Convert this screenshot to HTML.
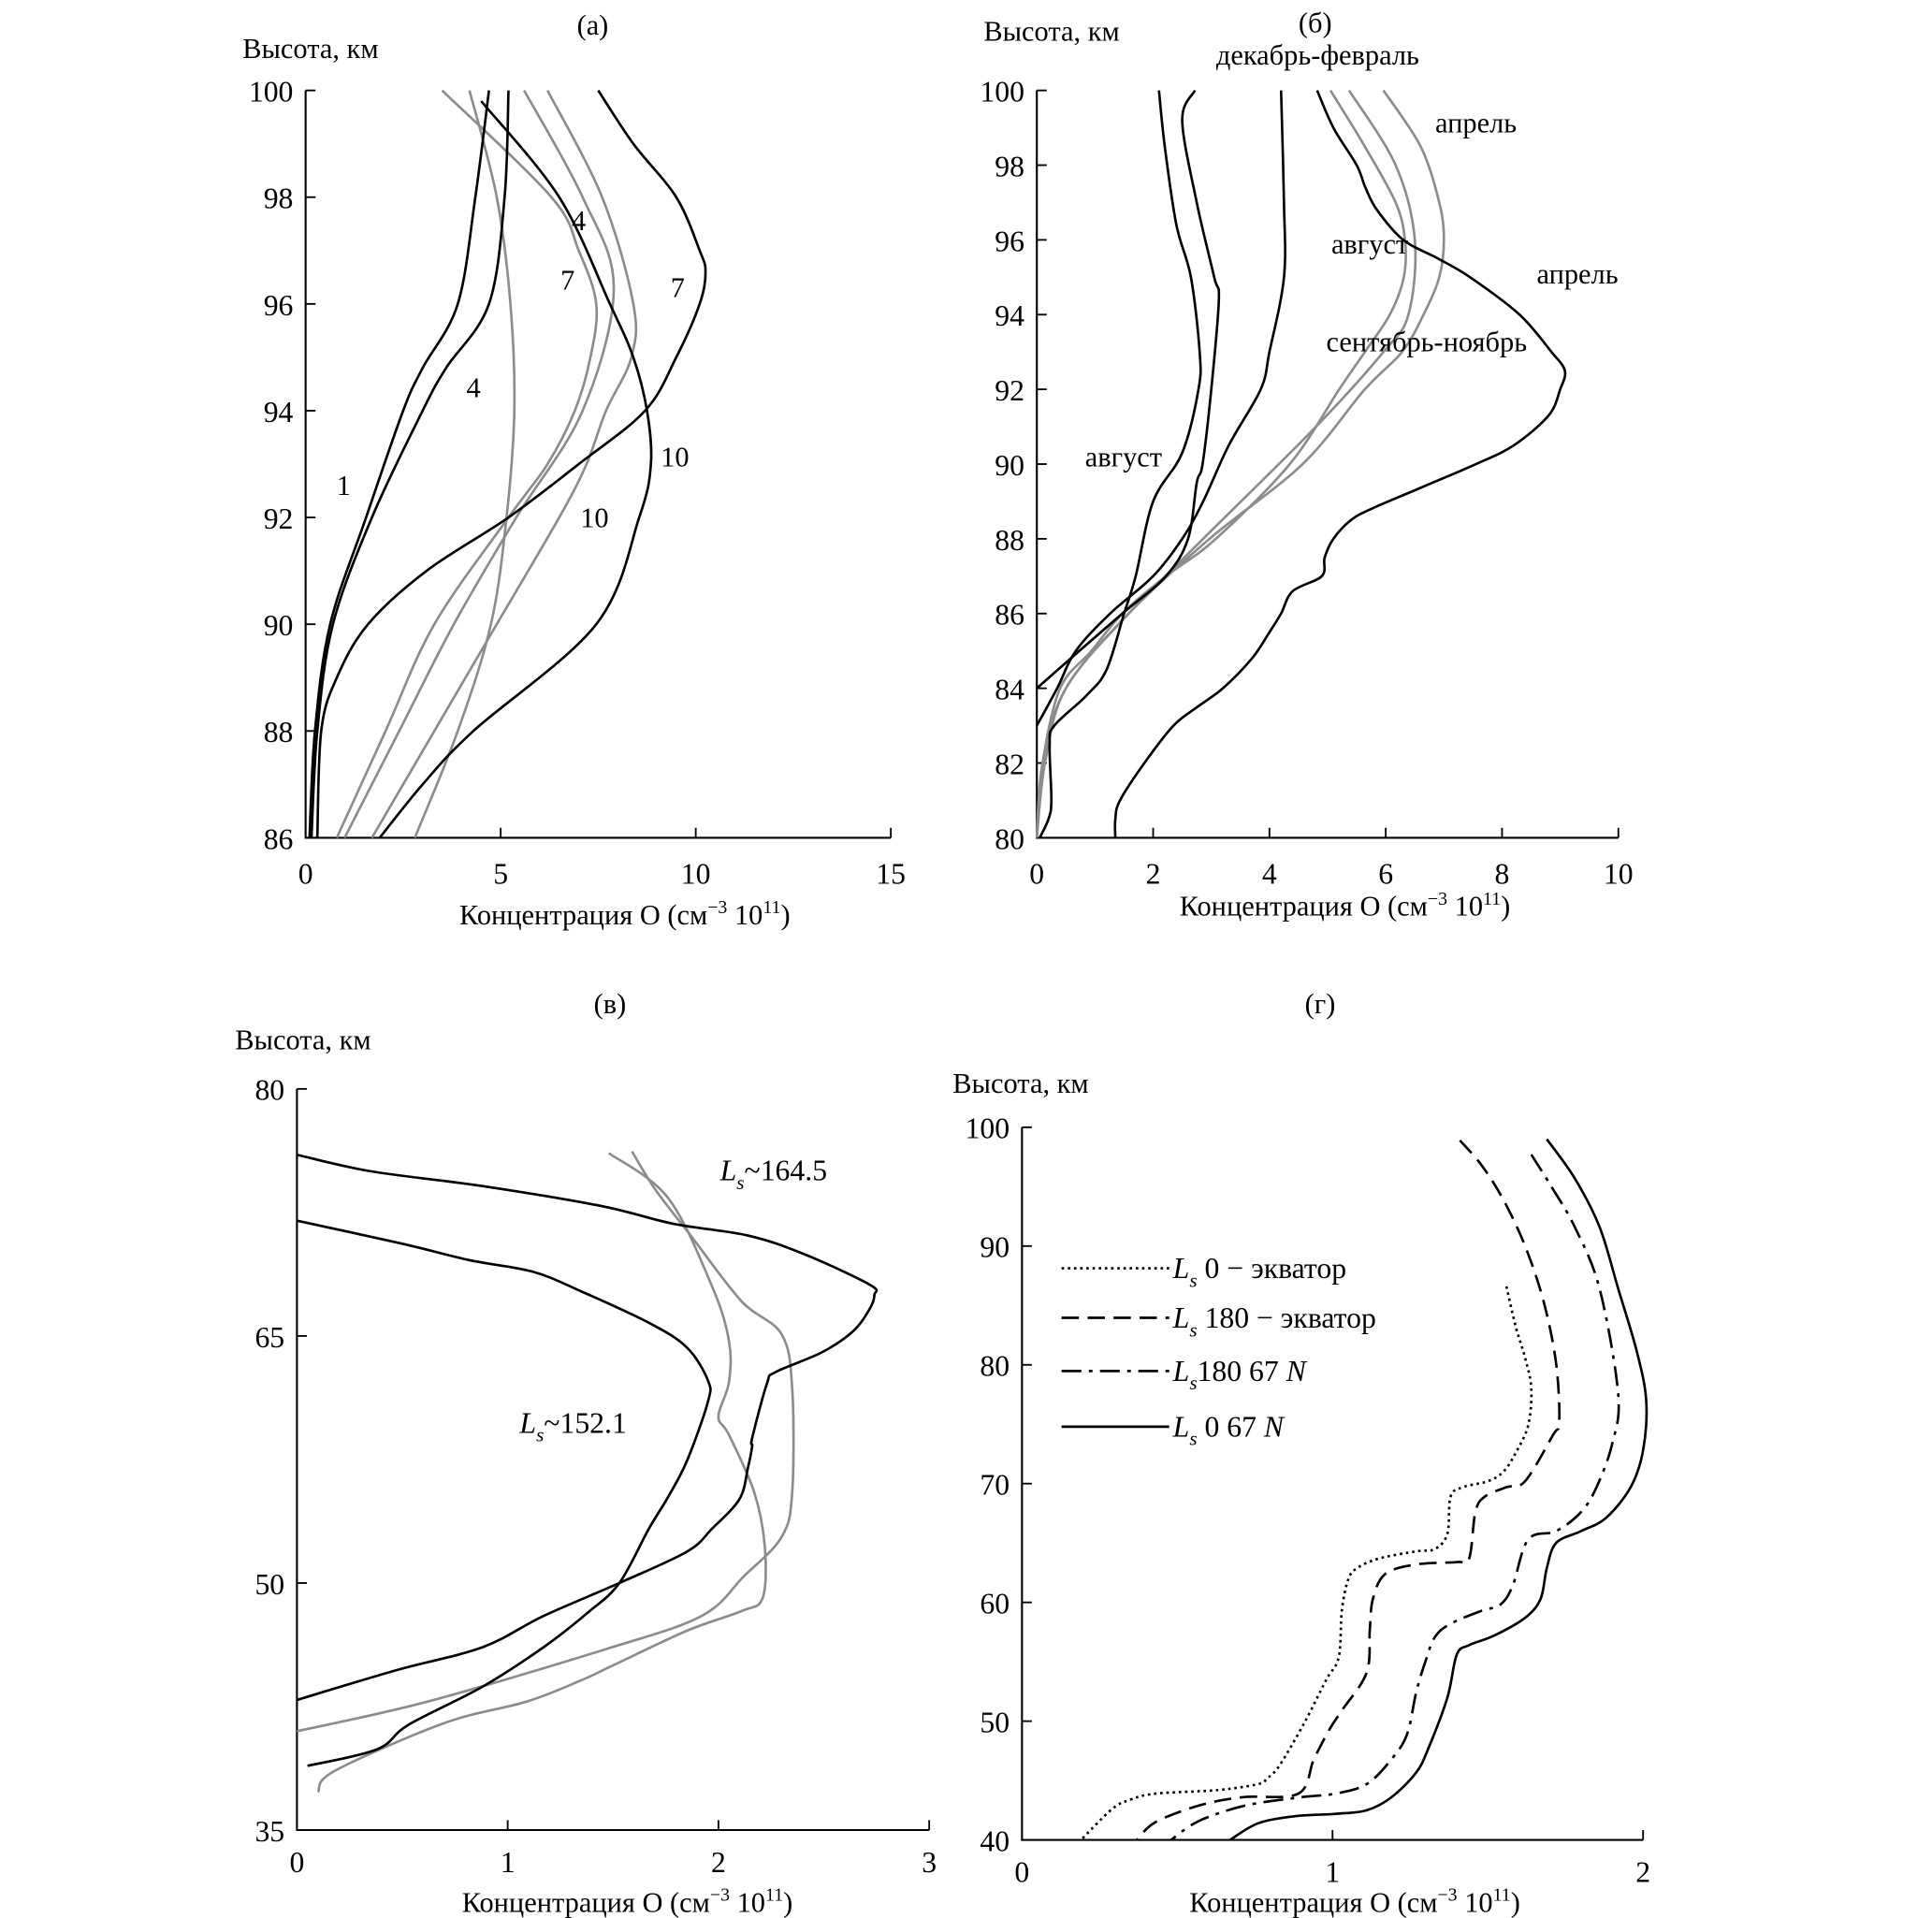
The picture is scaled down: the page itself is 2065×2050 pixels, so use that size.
<!DOCTYPE html>
<html><head><meta charset="utf-8"><style>
html,body{margin:0;padding:0;background:#fff}
svg{display:block}
text{font-family:"Liberation Serif",serif;fill:#000}
</style></head><body>
<svg id="fig" xmlns="http://www.w3.org/2000/svg" width="2065" height="2050" viewBox="0 0 1561.5 1550" font-family="Liberation Serif, serif">
<g id="gA"></g>
<g id="gB"></g>
<g id="gC"></g>
<g id="gD"></g>
</svg>
<script>
// ---------- Panel (a) data ----------
const aXTicks = [0, 5, 10, 15];
const aYTicks = [86, 88, 90, 92, 94, 96, 98, 100];
const aAlt1 = [100, 98, 96, 94.8, 94, 92, 90, 88, 86];
const aVal1 = [4.7, 4.35, 3.9, 3.0, 2.5, 1.55, 0.63, 0.24, 0.1];
const aAlt4 = [100, 98, 96, 94.8, 94, 92, 90, 88, 86];
const aVal4 = [5.2, 5.1, 4.7, 3.6, 3.0, 1.7, 0.7, 0.3, 0.15];
const aAlt7 = [100, 99, 98, 97, 96.6, 96, 95, 94, 93, 92, 91, 90, 89, 88, 86];
const aVal7 = [7.5, 8.4, 9.5, 10.1, 10.25, 10.1, 9.5, 8.7, 7.0, 5.2, 3.1, 1.6, 0.8, 0.4, 0.3];
const aAlt10 = [99.8, 98, 96, 95, 94, 93, 92, 90, 88, 87, 86];
const aVal10 = [4.5, 6.5, 7.8, 8.4, 8.75, 8.85, 8.55, 7.45, 4.3, 3.0, 1.9];
const aAltG4 = [100, 98, 97, 96, 95, 94, 93, 92, 90, 88, 86];
const aValG4 = [3.5, 6.3, 7.0, 7.45, 7.3, 6.9, 6.2, 5.2, 3.3, 2.05, 0.8];
const aAltG7 = [100, 98, 96.3, 94, 92, 90, 88, 86];
const aValG7 = [5.6, 7.1, 7.9, 7.1, 5.4, 3.8, 2.4, 1.0];
const aAltG1 = [100, 98, 96, 94, 92, 90, 88, 86];
const aValG1 = [4.2, 4.9, 5.25, 5.35, 5.15, 4.75, 3.9, 2.8];
const aAltG10 = [100, 98, 96, 95, 94, 93, 92, 90, 88, 86];
const aValG10 = [6.2, 7.6, 8.4, 8.35, 7.7, 7.2, 6.5, 4.9, 3.3, 1.7];

// ---------- Panel (b) data ----------
const bXTicks = [0, 2, 4, 6, 8, 10];
const bYTicks = [80, 82, 84, 86, 88, 90, 92, 94, 96, 98, 100];
const bAltAug = [100, 98.5, 96.4, 95, 93, 92, 90.3, 89, 87, 86, 84.5, 83.8, 83, 82.5, 81, 80.5, 80];
const bValAug = [2.1, 2.2, 2.4, 2.65, 2.8, 2.78, 2.5, 2.0, 1.7, 1.5, 1.2, 0.85, 0.3, 0.22, 0.25, 0.2, 0.05];
const bAltDec = [100, 99.2, 97, 95, 94.4, 92, 90, 89.5, 88, 87, 86, 85, 84];
const bValDec = [2.72, 2.5, 2.75, 3.05, 3.13, 3.0, 2.85, 2.75, 2.6, 2.22, 1.47, 0.73, 0];
const bAltSep = [100, 97, 95, 93, 92, 90.5, 89, 88, 87, 86, 85, 84, 83];
const bValSep = [4.2, 4.25, 4.25, 4.0, 3.85, 3.3, 2.86, 2.5, 2.0, 1.26, 0.67, 0.35, 0];
const bAltApr = [100, 99, 98, 97.4, 96.8, 96, 95.5, 95, 94, 93, 92.5, 92, 91.3, 90.5, 90, 89.3, 88.8, 88.5, 88, 87.5, 87, 86.6, 86, 85.5, 84.8, 84, 83.5, 83, 82, 81, 80.5, 80];
const bValApr = [4.82, 5.1, 5.5, 5.65, 5.85, 6.3, 6.9, 7.45, 8.3, 8.85, 9.08, 9.0, 8.8, 8.2, 7.55, 6.5, 5.75, 5.4, 5.1, 4.95, 4.9, 4.4, 4.2, 4.0, 3.7, 3.2, 2.76, 2.35, 1.85, 1.43, 1.35, 1.35];
const bAltG1 = [100, 98.5, 97, 96, 95, 94, 93, 92, 90, 88, 87, 86, 85, 84, 82, 80];
const bValG1 = [5.05, 5.64, 6.17, 6.33, 6.31, 6.07, 5.64, 5.2, 4.35, 3.08, 2.22, 1.47, 0.94, 0.4, 0.1, 0];
const bAltG2 = [100, 98, 96, 94, 93, 91, 88, 86, 84, 82, 80];
const bValG2 = [5.37, 6.17, 6.5, 6.39, 5.96, 4.8, 2.86, 1.58, 0.5, 0.14, 0];
const bAltG3 = [100, 98.5, 97, 96, 95, 94, 93, 92, 90, 88, 86, 84, 82, 80];
const bValG3 = [5.96, 6.6, 6.92, 7.0, 6.92, 6.65, 6.28, 5.64, 4.57, 2.97, 1.58, 0.5, 0.1, 0];

// ---------- Panel (c) data ----------
const cXTicks = [0, 1, 2, 3];
const cYTicks = [35, 50, 65, 80];
const cAltOuter = [76.0, 75.0, 74.1, 72.9, 71.8, 71.1, 69.95, 68.1, 67.5, 66.7, 65.3, 64.0, 62.8, 62.1, 58.8, 58.3, 57.0, 55.1, 53.3, 51.9, 50.0, 48.0, 46.1, 44.7, 42.9];
const cValOuter = [0, 0.35, 0.88, 1.44, 1.79, 2.14, 2.41, 2.72, 2.74, 2.72, 2.64, 2.49, 2.27, 2.23, 2.16, 2.16, 2.14, 2.1, 1.97, 1.85, 1.53, 1.17, 0.88, 0.47, 0];
const cAltInner = [72.0, 70.6, 69.6, 68.9, 67.7, 65.8, 64.3, 62.3, 61.0, 57.4, 55.2, 53.3, 50.0, 48.2, 46.1, 43.7, 41.4, 39.9, 38.9];
const cValInner = [0, 0.5, 0.82, 1.12, 1.35, 1.67, 1.85, 1.95, 1.95, 1.85, 1.76, 1.67, 1.53, 1.38, 1.17, 0.88, 0.53, 0.38, 0.05];
const cAltG1 = [76.1, 73.4, 68.0, 64.7, 62.2, 60.1, 59.0, 55.5, 52.2, 49.1, 48.3, 47.1, 45.0, 44.1, 42.8, 41.5, 38.6, 37.3];
const cValG1 = [1.48, 1.76, 1.97, 2.05, 2.05, 2.0, 2.05, 2.17, 2.22, 2.21, 2.11, 1.85, 1.5, 1.35, 1.09, 0.7, 0.18, 0.1];
const cAltG2 = [76.2, 73.9, 70.9, 67.1, 65.1, 61.8, 55.5, 52.8, 50.4, 48.0, 46.0, 42.8, 41.0];
const cValG2 = [1.59, 1.7, 1.88, 2.11, 2.3, 2.35, 2.35, 2.3, 2.12, 1.92, 1.47, 0.62, 0];

// ---------- Panel (d) data ----------
const dXTicks = [0, 1, 2];
const dYTicks = [40, 50, 60, 70, 80, 90, 100];
const dAltDot = [86.6, 83.2, 80.6, 78.0, 74.9, 72.6, 71.0, 70.2, 69.7, 68.9, 65.8, 64.5, 64.3, 63.7, 62.9, 61.9, 59.3, 55.4, 53.5, 49.9, 46.3, 45.2, 44.7, 44.2, 43.9, 43.4, 42.6, 40.0];
const dValDot = [1.56, 1.59, 1.62, 1.64, 1.63, 1.59, 1.55, 1.5, 1.42, 1.38, 1.37, 1.33, 1.27, 1.15, 1.08, 1.05, 1.03, 1.02, 0.98, 0.91, 0.83, 0.79, 0.76, 0.63, 0.43, 0.35, 0.29, 0.19];
const dAltDash = [98.9, 96.8, 93.9, 90.0, 85.3, 80.1, 75.2, 74.1, 70.2, 69.7, 68.9, 67.6, 63.7, 63.4, 63.2, 62.4, 60.3, 57.7, 54.1, 50.9, 49.3, 46.8, 43.9, 43.6, 42.9, 41.5, 40.0];
const dValDash = [1.41, 1.48, 1.55, 1.62, 1.68, 1.72, 1.73, 1.71, 1.62, 1.56, 1.49, 1.46, 1.44, 1.4, 1.27, 1.17, 1.13, 1.12, 1.11, 1.03, 0.99, 0.94, 0.89, 0.71, 0.57, 0.43, 0.37];
const dAltDD = [97.7, 95.2, 91.6, 86.4, 77.5, 73.3, 69.7, 67.6, 66.0, 65.3, 61.4, 59.8, 59.3, 58.2, 57.1, 55.1, 52.5, 48.9, 46.8, 44.7, 43.9, 43.6, 42.9, 41.6, 40.0];
const dValDD = [1.64, 1.7, 1.78, 1.86, 1.92, 1.9, 1.85, 1.8, 1.72, 1.63, 1.58, 1.54, 1.48, 1.38, 1.33, 1.3, 1.27, 1.24, 1.19, 1.11, 1.01, 0.9, 0.72, 0.57, 0.48];
const dAltSolid = [99.0, 95.7, 91.6, 86.4, 81.1, 77.0, 72.8, 69.7, 67.1, 66.0, 65.0, 62.9, 60.3, 58.7, 57.2, 56.4, 55.6, 52.0, 47.8, 45.7, 43.6, 42.5, 42.2, 42.0, 41.4, 40.0];
const dValSolid = [1.69, 1.78, 1.86, 1.92, 1.98, 2.01, 2.0, 1.96, 1.88, 1.8, 1.72, 1.69, 1.67, 1.62, 1.52, 1.44, 1.4, 1.37, 1.31, 1.27, 1.19, 1.11, 1.01, 0.88, 0.76, 0.67];
const dLegendLabels = [" 0 − экватор", " 180 − экватор", "180 67 ", " 0 67 "];

const NS = "http://www.w3.org/2000/svg";
function mk(parent, tag, attrs, txt){
  const e = document.createElementNS(NS, tag);
  for (const k in attrs) e.setAttribute(k, attrs[k]);
  if (txt !== undefined) e.textContent = txt;
  parent.appendChild(e);
  return e;
}
function scale(d0, d1, r0, r1){ return v => r0 + (v - d0) * (r1 - r0) / (d1 - d0); }
function smoothPath(pts){
  let d = "M" + pts[0][0].toFixed(2) + "," + pts[0][1].toFixed(2);
  for (let i = 0; i < pts.length - 1; i++){
    const p0 = pts[i-1] || pts[i], p1 = pts[i], p2 = pts[i+1], p3 = pts[i+2] || p2;
    const c1x = p1[0] + (p2[0]-p0[0])/6, c1y = p1[1] + (p2[1]-p0[1])/6;
    const c2x = p2[0] - (p3[0]-p1[0])/6, c2y = p2[1] - (p3[1]-p1[1])/6;
    d += " C" + c1x.toFixed(2)+","+c1y.toFixed(2)+" "+c2x.toFixed(2)+","+c2y.toFixed(2)+" "+p2[0].toFixed(2)+","+p2[1].toFixed(2);
  }
  return d;
}
function curve(g, xs, ys, vals, alts, color, dash, name){
  const pts = vals.map((v, i) => [xs(v), ys(alts[i])]);
  const p = mk(g, "path", {d: smoothPath(pts), fill: "none", stroke: color, "stroke-width": 2, "stroke-linejoin": "round"});
  if (dash) p.setAttribute("stroke-dasharray", dash);
  
  
  return p;
}
function axes(g, xs, ys, xt, yt, x0, y0, x1, y1, o){
  const ax = mk(g, "path", {d: `M${xs(x0)},${ys(y1)} L${xs(x0)},${ys(y0)} L${xs(x1)},${ys(y0)}`, fill:"none", stroke:"#000", "stroke-width":1.6});
  
  
  xt.forEach(t => {
    if (t !== x0) {
      const tk = mk(g, "line", {x1: xs(t), x2: xs(t), y1: ys(y0), y2: ys(y0) - 8, stroke:"#000", "stroke-width":1.4});
      
      
    }
    const tl = mk(g, "text", {x: xs(t), y: ys(y0) + o.xLabOff, "text-anchor":"middle", "font-size": 24}, String(t));
    
    
  });
  yt.forEach(t => {
    const tk = mk(g, "line", {x1: xs(x0), x2: xs(x0) + 8, y1: ys(t), y2: ys(t), stroke:"#000", "stroke-width":1.4});
    
    
    const tl = mk(g, "text", {x: xs(x0) - 10, y: ys(t) + 9, "text-anchor":"end", "font-size": 24}, String(t));
    
    
  });
}
function xTitle(g, x, y){
  const t = mk(g, "text", {x: x, y: y, "text-anchor":"middle", "font-size": 23});
  
  
  mk(t, "tspan", {}, "Концентрация О (см");
  mk(t, "tspan", {"font-size": 15, dy: -9}, "−3");
  mk(t, "tspan", {dy: 9}, " 10");
  mk(t, "tspan", {"font-size": 15, dy: -9}, "11");
  mk(t, "tspan", {dy: 9}, ")");
}
function label(g, x, y, s, color, name, size, anchor){
  const t = mk(g, "text", {x: x, y: y, "font-size": size || 23, "text-anchor": anchor || "start", fill: color || "#000"}, s);
  
  
  return t;
}
function lsLabel(g, x, y, rest, name){
  const t = mk(g, "text", {x: x, y: y, "font-size": 24});
  
  
  mk(t, "tspan", {"font-style":"italic"}, "L");
  mk(t, "tspan", {"font-style":"italic", "font-size": 16, dy: 7}, "s");
  mk(t, "tspan", {dy: -7}, rest);
  return t;
}

const BLK = "#000", GRY = "#8c8c8c";

// Panel A
(function(){
  const g = document.getElementById("gA");
  const xs = scale(0, 15, 247, 720), ys = scale(86, 100, 677, 73);
  axes(g, xs, ys, aXTicks, aYTicks, 0, 86, 15, 100, {xLabOff: 37});
  label(g, 479, 28, "(а)", "#000", "panel-a-title", 23, "middle");
  label(g, 196, 47, "Высота, км", "#000", "y-axis-title", 23);
  xTitle(g, 505, 747);
  curve(g, xs, ys, aValG1, aAltG1, GRY, null, "gray-curve-1");
  curve(g, xs, ys, aValG4, aAltG4, GRY, null, "gray-curve-4");
  curve(g, xs, ys, aValG7, aAltG7, GRY, null, "gray-curve-7");
  curve(g, xs, ys, aValG10, aAltG10, GRY, null, "gray-curve-10");
  curve(g, xs, ys, aVal1, aAlt1, BLK, null, "black-curve-1");
  curve(g, xs, ys, aVal4, aAlt4, BLK, null, "black-curve-4");
  curve(g, xs, ys, aVal7, aAlt7, BLK, null, "black-curve-7");
  curve(g, xs, ys, aVal10, aAlt10, BLK, null, "black-curve-10");
  label(g, 272, 400, "1", BLK, "label-1");
  label(g, 377, 321, "4", BLK, "label-4-black");
  label(g, 462, 186, "4", GRY, "label-4-gray");
  label(g, 453, 234, "7", GRY, "label-7-gray");
  label(g, 542, 240, "7", BLK, "label-7-black");
  label(g, 534, 377, "10", BLK, "label-10-black");
  label(g, 469, 426, "10", GRY, "label-10-gray");
})();

// Panel B
(function(){
  const g = document.getElementById("gB");
  const xs = scale(0, 10, 838, 1308), ys = scale(80, 100, 677, 73);
  axes(g, xs, ys, bXTicks, bYTicks, 0, 80, 10, 100, {xLabOff: 37});
  label(g, 1063, 26, "(б)", "#000", "panel-b-title", 23, "middle");
  label(g, 795, 33, "Высота, км", "#000", "y-axis-title", 23);
  xTitle(g, 1087, 740);
  curve(g, xs, ys, bValG1, bAltG1, GRY, null, "gray-curve-august");
  curve(g, xs, ys, bValG2, bAltG2, GRY, null, "gray-curve-mid");
  curve(g, xs, ys, bValG3, bAltG3, GRY, null, "gray-curve-april");
  curve(g, xs, ys, bValAug, bAltAug, BLK, null, "black-curve-august");
  curve(g, xs, ys, bValDec, bAltDec, BLK, null, "black-curve-dec-feb");
  curve(g, xs, ys, bValSep, bAltSep, BLK, null, "black-curve-sep-nov");
  curve(g, xs, ys, bValApr, bAltApr, BLK, null, "black-curve-april");
  label(g, 1065, 52, "декабрь-февраль", BLK, "label-dec-feb", 23, "middle");
  label(g, 1160, 107, "апрель", GRY, "label-april-gray");
  label(g, 1076, 205, "август", GRY, "label-august-gray");
  label(g, 1242, 229, "апрель", BLK, "label-april-black");
  label(g, 1153, 284, "сентябрь-ноябрь", BLK, "label-sep-nov", 23, "middle");
  label(g, 877, 377, "август", BLK, "label-august-black");
})();

// Panel C
(function(){
  const g = document.getElementById("gC");
  const xs = scale(0, 3, 240, 751), ys = scale(35, 80, 1479, 880);
  axes(g, xs, ys, cXTicks, cYTicks, 0, 35, 3, 80, {xLabOff: 34});
  label(g, 493, 819, "(в)", "#000", "panel-c-title", 23, "middle");
  label(g, 190, 848, "Высота, км", "#000", "y-axis-title", 23);
  xTitle(g, 507, 1545);
  curve(g, xs, ys, cValG1, cAltG1, GRY, null, "gray-curve-1");
  curve(g, xs, ys, cValG2, cAltG2, GRY, null, "gray-curve-2");
  curve(g, xs, ys, cValOuter, cAltOuter, BLK, null, "black-curve-ls-164");
  curve(g, xs, ys, cValInner, cAltInner, BLK, null, "black-curve-ls-152");
  lsLabel(g, 582, 954, "~164.5", "label-ls-164-5");
  lsLabel(g, 420, 1158, "~152.1", "label-ls-152-1");
})();

// Panel D
(function(){
  const g = document.getElementById("gD");
  const xs = scale(0, 2, 826, 1328), ys = scale(40, 100, 1487, 911);
  axes(g, xs, ys, dXTicks, dYTicks, 0, 40, 2, 100, {xLabOff: 34});
  label(g, 1067, 819, "(г)", "#000", "panel-d-title", 23, "middle");
  label(g, 770, 883, "Высота, км", "#000", "y-axis-title", 23);
  xTitle(g, 1095, 1545);
  curve(g, xs, ys, dValDot, dAltDot, BLK, "2,3", "curve-ls0-equator");
  curve(g, xs, ys, dValDash, dAltDash, BLK, "14,7", "curve-ls180-equator");
  curve(g, xs, ys, dValDD, dAltDD, BLK, "16,6,3,6", "curve-ls180-67n");
  curve(g, xs, ys, dValSolid, dAltSolid, BLK, null, "curve-ls0-67n");
  const dashes = ["2,3", "14,7", "16,6,3,6", null];
  const ly = [1025, 1065, 1108, 1153];
  dLegendLabels.forEach((s, i) => {
    const ln = mk(g, "line", {x1: 858, x2: 945, y1: ly[i], y2: ly[i], stroke: "#000", "stroke-width": 2});
    if (dashes[i]) ln.setAttribute("stroke-dasharray", dashes[i]);
    
    
    const t = lsLabel(g, 948, ly[i] + 8, s, "legend-entry");
    if (i >= 2) mk(t, "tspan", {"font-style": "italic"}, "N");
  });
})();
</script>
</body></html>
